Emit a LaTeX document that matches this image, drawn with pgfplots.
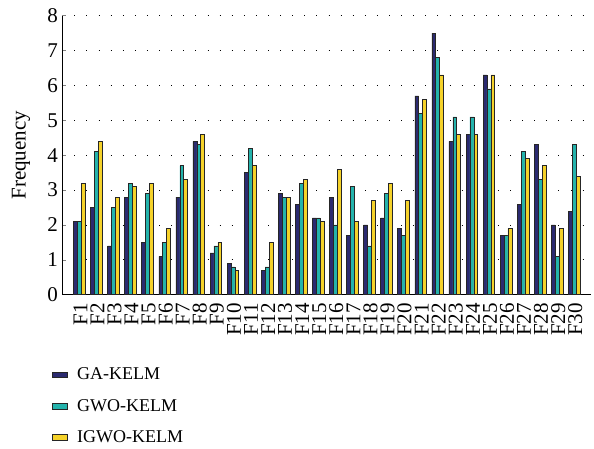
\documentclass[border=0pt]{standalone}
\usepackage{pgfplots}
\pgfplotsset{compat=1.18}
\usepackage{fontspec}
\setmainfont{Liberation Serif}
\definecolor{cga}{HTML}{2B2A70}
\definecolor{cgwo}{HTML}{24B3AC}
\definecolor{cigwo}{HTML}{F5D22A}
\newcommand{\bigf}{\fontsize{21bp}{24bp}\selectfont}
\newcommand{\legf}{\fontsize{18bp}{21bp}\selectfont}
\begin{document}
\begin{tikzpicture}
\useasboundingbox (-62.3bp,-154.3bp) rectangle (531.7bp,294.7bp);
\begin{axis}[
  scale only axis,
  width=529bp, height=279bp,
  xmin=0, xmax=31, ymin=0, ymax=8,
  ytick={0,1,...,8},
  xtick={1,...,30},
  xticklabels={F1,F2,F3,F4,F5,F6,F7,F8,F9,F10,F11,F12,F13,F14,F15,F16,F17,F18,F19,F20,F21,F22,F23,F24,F25,F26,F27,F28,F29,F30},
  axis x line*=bottom, axis y line*=left,
  axis line style={line width=0.8bp, -},
  xtick style={draw=none},
  ytick style={line width=0.6bp},
  tick align=inside,
  major tick length=4bp,
  ymajorgrids,
  grid style={black, line width=0.9bp, dash pattern=on 0.9bp off 11.2bp},
  tick label style={font=\bigf},
  label style={font=\bigf},
  /pgf/number format/assume math mode=true,
  yticklabel style={xshift=-1bp},
  xticklabel style={rotate=90, anchor=east, yshift=-1bp, xshift=-1bp},
  ylabel={Frequency},
  ylabel style={at={(axis description cs:-0.078,0.5)}, anchor=center},
  ybar=0pt, bar width=3.9bp,
  every axis plot/.append style={draw=black!85, line width=0.6bp},
  legend style={at={(axis description cs:-0.019,-0.255)}, anchor=north west, draw=none, fill=none,
    font=\legf, row sep=14bp, inner sep=0pt,
    legend cell align=left},
  legend image code/.code={\draw[#1, line width=0.6bp] (0bp,-2.8bp) rectangle (15bp,2.8bp); \path (22bp,0bp);},
]
\addplot[fill=cga] coordinates {(1,2.1)(2,2.5)(3,1.4)(4,2.8)(5,1.5)(6,1.1)(7,2.8)(8,4.4)(9,1.2)(10,0.9)(11,3.5)(12,0.7)(13,2.9)(14,2.6)(15,2.2)(16,2.8)(17,1.7)(18,2.0)(19,2.2)(20,1.9)(21,5.7)(22,7.5)(23,4.4)(24,4.6)(25,6.3)(26,1.7)(27,2.6)(28,4.3)(29,2.0)(30,2.4)};
\addplot[fill=cgwo] coordinates {(1,2.1)(2,4.1)(3,2.5)(4,3.2)(5,2.9)(6,1.5)(7,3.7)(8,4.3)(9,1.4)(10,0.8)(11,4.2)(12,0.8)(13,2.8)(14,3.2)(15,2.2)(16,2.0)(17,3.1)(18,1.4)(19,2.9)(20,1.7)(21,5.2)(22,6.8)(23,5.1)(24,5.1)(25,5.9)(26,1.7)(27,4.1)(28,3.3)(29,1.1)(30,4.3)};
\addplot[fill=cigwo] coordinates {(1,3.2)(2,4.4)(3,2.8)(4,3.1)(5,3.2)(6,1.9)(7,3.3)(8,4.6)(9,1.5)(10,0.7)(11,3.7)(12,1.5)(13,2.8)(14,3.3)(15,2.1)(16,3.6)(17,2.1)(18,2.7)(19,3.2)(20,2.7)(21,5.6)(22,6.3)(23,4.6)(24,4.6)(25,6.3)(26,1.9)(27,3.9)(28,3.7)(29,1.9)(30,3.4)};
\legend{GA-KELM, GWO-KELM, IGWO-KELM}
\end{axis}
\end{tikzpicture}
\end{document}
